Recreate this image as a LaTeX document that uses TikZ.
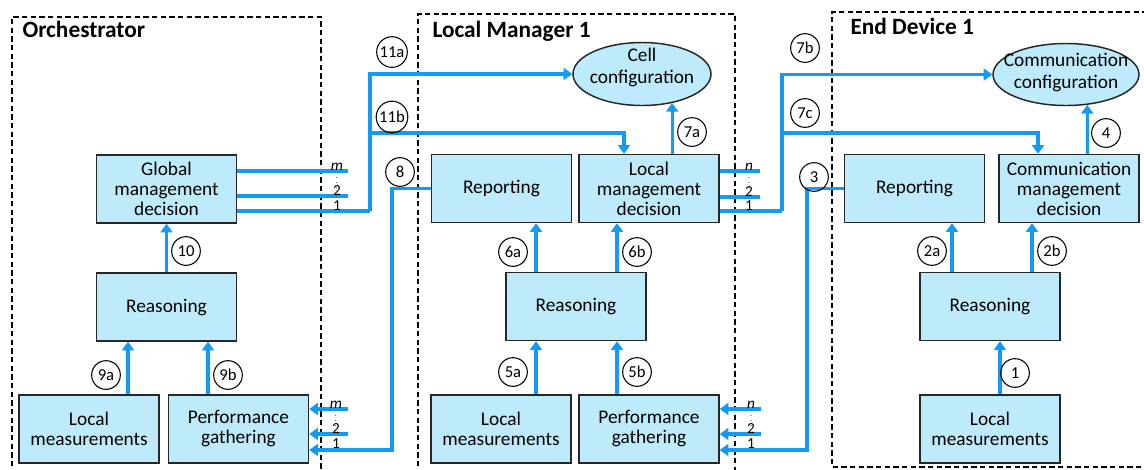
\documentclass[tikz,border=0pt]{standalone}
\usepackage{fontspec}
\setmainfont{Carlito}
\usetikzlibrary{arrows.meta,shapes.geometric}

\definecolor{flowblue}{RGB}{17,155,245}
\definecolor{boxfill}{RGB}{190,235,252}

\tikzset{every picture/.style={line width=0.75pt}}
\tikzset{
  block/.style={draw=black!85,line width=1.1pt,fill=boxfill,minimum width=105pt,minimum height=51pt,inner sep=0pt,align=center,font=\fontsize{14.5}{15}\selectfont},
  cfg/.style={ellipse,draw=black!85,line width=1.1pt,fill=boxfill,inner sep=0pt},
  cfgtext/.style={align=center,inner sep=0pt,font=\fontsize{14.5}{16.5}\selectfont},
  tag/.style={circle,draw,line width=0.8pt,minimum size=21.5pt,inner sep=1pt,font=\fontsize{12.5}{12.5}\selectfont},
  flow/.style={draw=flowblue,line width=2.4pt},
  flowin/.style={flow,-{Triangle[width=9pt,length=6.5pt]}},
  zone/.style={draw,line width=0.9pt,dash pattern={on 4pt off 2.5pt}},
  title/.style={anchor=base west,inner sep=0pt,font=\fontsize{17.5}{17.5}\selectfont\bfseries},
  idx/.style={anchor=base,inner sep=0pt,font=\fontsize{11.5}{11.5}\selectfont},
  vdot/.style={inner sep=0pt,font=\fontsize{6}{6}\selectfont},
}

\begin{document}
\begin{tikzpicture}[x=0.75pt,y=0.75pt,yscale=-1,xscale=1]
\useasboundingbox (0,0) rectangle (1144,469);

%Dashed frames
\draw[zone] (12,475) |- (321,17) -- (321,475);
\draw[zone] (418,475) |- (735,14) -- (735,475);
\draw[zone] (1150,467) -| (832,12) -- (1150,12);

% Text Node
\node (tO) [title] at (22,37) {Orchestrator};
\node (tL) [title] at (432,37) {Local Manager 1};
\node (tE) [title] at (850,34) {End Device 1};

%Shape: Rectangle -- orchestrator
\node (globO) [block] at (166.5,189) {Global\\management\\decision};
\node (reasO) [block] at (166.5,307) {Reasoning};
\node (measO) [block] at (89,429) {Local\\measurements};
\node (perfO) [block] at (238.5,429) {Performance\\gathering};

%Shape: Rectangle -- local manager
\node (repL) [block] at (501.5,188.5) {Reporting};
\node (decL) [block] at (649,188.5) {Local\\management\\decision};
\node (reasL) [block] at (576,306.5) {Reasoning};
\node (measL) [block] at (501,429) {Local\\measurements};
\node (perfL) [block] at (649,429) {Performance\\gathering};
%Shape: Ellipse
\node (cellL) [cfg,minimum width=103.5pt,minimum height=47.25pt] at (642,74) {};
\node (cellLt) [cfgtext] at (642,67) {Cell\\configuration};

%Shape: Rectangle -- end device
\node (repE) [block] at (914.5,188.5) {Reporting};
\node (decE) [block] at (1069,188.5) {Communication\\management\\decision};
\node (reasE) [block] at (990,306.5) {Reasoning};
\node (measE) [block] at (990,429) {Local\\measurements};
%Shape: Ellipse
\node (commE) [cfg,minimum width=109.5pt,minimum height=46.5pt] at (1066,74.5) {};
\node (commEt) [cfgtext] at (1066,72) {Communication\\configuration};

%Bend points
\coordinate (jO) at (370,211);
\coordinate (k11b) at (624,133);
\coordinate (jL) at (782,211);
\coordinate (k7c) at (1038,133);
\coordinate (k8) at (392,450);
\coordinate (k3) at (807,450);
\coordinate (mO) at (348,171);
\coordinate (twoO) at (348,196);
\coordinate (nL) at (760,171);
\coordinate (twoL) at (760,197);
\coordinate (mP) at (348,409);
\coordinate (twoP) at (348,434);
\coordinate (nP) at (761,409);
\coordinate (twoQ) at (761,434);

%Straight Lines -- inside the orchestrator
\draw[flowin] (reasO) -- (globO);
\draw[flowin] (128,0 |- measO.north) -- (128,0 |- reasO.south);
\draw[flowin] (208,0 |- perfO.north) -- (208,0 |- reasO.south);

%Straight Lines -- inside the local manager
\draw[flowin] (536,0 |- reasL.north) -- (536,0 |- repL.south);
\draw[flowin] (617,0 |- reasL.north) -- (617,0 |- decL.south);
\draw[flowin] (536,0 |- measL.north) -- (536,0 |- reasL.south);
\draw[flowin] (617,0 |- perfL.north) -- (617,0 |- reasL.south);
\draw[flowin] (cellL.316 |- decL.north) -- (cellL.316);

%Straight Lines -- inside the end device
\draw[flowin] (952,0 |- reasE.north) -- (952,0 |- repE.south);
\draw[flowin] (1032,0 |- reasE.north) -- (1032,0 |- decE.south);
\draw[flowin] (1000,0 |- measE.north) -- (1000,0 |- reasE.south);
\draw[flowin] (commE.305 |- decE.north) -- (commE.305);

%Decision outputs of the orchestrator
\draw[flow] (globO.east |- mO) -- (mO);
\draw[flow] (globO.east |- twoO) -- (twoO);
\draw[flow] (globO.east |- jO) -- (jO);
\draw[flowin] (jO) |- (cellL.west);
\draw[flowin] (jO) |- (k11b) -- (k11b |- decL.north);

%Decision outputs of the local manager
\draw[flow] (decL.east |- nL) -- (nL);
\draw[flow] (decL.east |- twoL) -- (twoL);
\draw[flow] (decL.east |- jL) -- (jL);
\draw[flowin] (jL) |- (commE.west);
\draw[flowin] (jL) |- (k7c) -- (k7c |- decE.north);

%Reports going back up
\draw[flowin] (repL.west) -| (k8) -- (perfO.east |- k8);
\draw[flowin] (mP) -- (perfO.east |- mP);
\draw[flowin] (twoP) -- (perfO.east |- twoP);
\draw[flowin] (repE.west) -| (k3) -- (perfL.east |- k3);
\draw[flowin] (nP) -- (perfL.east |- nP);
\draw[flowin] (twoQ) -- (perfL.east |- twoQ);

% Text Node -- link indices
\node (iOm) [idx] at (337,170) {\textit{m}};
\node (iOd) [vdot] at (337,179) {$\vdots$};
\node (iO2) [idx] at (337,195) {2};
\node (iO1) [idx] at (337,210) {1};
\node (iLn) [idx] at (749,170) {\textit{n}};
\node (iLd) [vdot] at (749,179) {$\vdots$};
\node (iL2) [idx] at (749,196) {2};
\node (iL1) [idx] at (749,210) {1};
\node (iPm) [idx] at (336,408) {\textit{m}};
\node (iPd) [vdot] at (336,417) {$\vdots$};
\node (iP2) [idx] at (336,433) {2};
\node (iP1) [idx] at (336,448) {1};
\node (iQn) [idx] at (751,408) {\textit{n}};
\node (iQd) [vdot] at (751,417) {$\vdots$};
\node (iQ2) [idx] at (751,433) {2};
\node (iQ1) [idx] at (751,448) {1};

% Text Node -- step numbers
\node (s1) [tag] at (1015,373) {1};
\node (s2a) [tag] at (932,251) {2a};
\node (s2b) [tag] at (1052,251) {2b};
\node (s3) [tag] at (814,177) {3};
\node (s4) [tag] at (1106,133) {4};
\node (s5a) [tag] at (513,372) {5a};
\node (s5b) [tag] at (637,372) {5b};
\node (s6a) [tag] at (513,252) {6a};
\node (s6b) [tag] at (637,252) {6b};
\node (s7a) [tag] at (692,132) {7a};
\node (s7b) [tag] at (805,48) {7b};
\node (s7c) [tag] at (805,113) {7c};
\node (s8) [tag] at (400,172) {8};
\node (s9a) [tag] at (106,375) {9a};
\node (s9b) [tag] at (228,375) {9b};
\node (s10) [tag] at (186,251) {10};
\node (s11a) [tag] at (392,52) {11a};
\node (s11b) [tag] at (392,117) {11b};
\end{tikzpicture}
\end{document}
